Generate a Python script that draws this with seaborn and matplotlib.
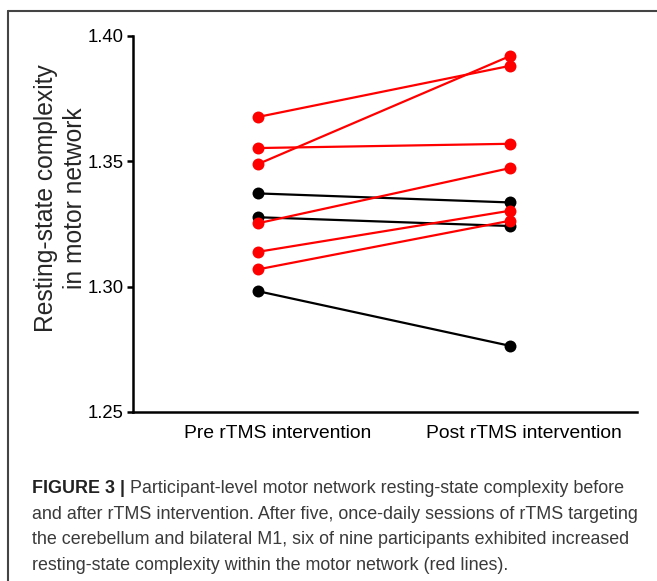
import matplotlib
matplotlib.use("Agg")
import matplotlib.pyplot as plt
from matplotlib.lines import Line2D
import seaborn as sns
import pandas as pd

# ---- data ----
conditions = ["Pre rTMS intervention", "Post rTMS intervention"]
pre_values = [1.3677, 1.3553, 1.3489, 1.3372, 1.3277, 1.3253, 1.3139, 1.3069, 1.2982]
post_values = [1.3881, 1.3570, 1.3920, 1.3336, 1.3242, 1.3473, 1.3303, 1.3263, 1.2764]
increased = [True, True, True, False, False, True, True, True, False]
y_ticks = [1.25, 1.30, 1.35, 1.40]
y_label = "Resting-state complexity\nin motor network"
caption_bold = "FIGURE 3 |"
caption_first = " Participant-level motor network resting-state complexity before"
caption_rest = ["and after rTMS intervention. After five, once-daily sessions of rTMS targeting",
                "the cerebellum and bilateral M1, six of nine participants exhibited increased",
                "resting-state complexity within the motor network (red lines)."]

rows = []
for i, (a, b, inc) in enumerate(zip(pre_values, post_values, increased)):
    rows.append(dict(pid=i, x=0, value=a, inc=inc))
    rows.append(dict(pid=i, x=1, value=b, inc=inc))
df = pd.DataFrame(rows)

sns.set_theme(style="white")
plt.rcParams['font.family'] = ['Liberation Sans', 'DejaVu Sans']

fig = plt.figure(figsize=(6.57, 5.81), dpi=100)
ax = fig.add_axes([133/657, 1-412/581, (637-133)/657, (412-36)/581])

# black first, red on top
for flag, col in [(False, "black"), (True, "#ff0000")]:
    sub = df[df.inc == flag]
    sns.lineplot(data=sub, x="x", y="value", units="pid", estimator=None,
                 color=col, marker="o", markersize=8.6, markeredgewidth=0,
                 linewidth=1.6, ax=ax, legend=False)

ax.set_xlim(-0.496, 1.504)
ax.set_ylim(1.25, 1.40)
ax.set_yticks(y_ticks)
ax.set_yticklabels([f"{t:.2f}" for t in y_ticks], fontsize=13.3)
# category labels in the original sit slightly right of the point columns
# (ticks themselves are invisible, length 0)
ax.set_xticks([0 + 0.079, 1 + 0.056])
ax.set_xticklabels(conditions, fontsize=13.9)
ax.set_xlabel("")
ax.set_ylabel(y_label, fontsize=17.7, linespacing=1.25)
ax.yaxis.set_label_coords(-0.092, 0.569)
for s in ["top", "right"]:
    ax.spines[s].set_visible(False)
for s in ["left", "bottom"]:
    ax.spines[s].set_color("black")
    ax.spines[s].set_linewidth(1.8)
ax.tick_params(axis="y", direction="out", length=4, width=1.8, color="black",
               pad=3, left=True, labelcolor="black")
ax.tick_params(axis="x", length=0, pad=9, labelcolor="black")

# figure border (top and left)
fig.add_artist(Line2D([8/657, 1], [1-11/581, 1-11/581], transform=fig.transFigure,
                      color="#444444", linewidth=1.5))
fig.add_artist(Line2D([8/657, 8/657], [0, 1-11/581], transform=fig.transFigure,
                      color="#444444", linewidth=1.5))

# caption
cap_font = ['Liberation Sans', 'DejaVu Sans']
cx = 32/657
ys = [493, 519, 544, 570]
tb = fig.text(cx, 1-ys[0]/581, caption_bold, fontsize=12.9, fontweight="bold",
              color="#222222", family=cap_font, va="baseline")
ax.annotate(caption_first, xy=(1, 0), xycoords=tb, va="bottom", ha="left",
            fontsize=12.9, color="#3a3a3a", family=cap_font, annotation_clip=False)
for y, line in zip(ys[1:], caption_rest):
    fig.text(cx, 1-y/581, line, fontsize=12.9, color="#3a3a3a", family=cap_font,
             va="baseline")

fig.savefig("out.png", dpi=100)
